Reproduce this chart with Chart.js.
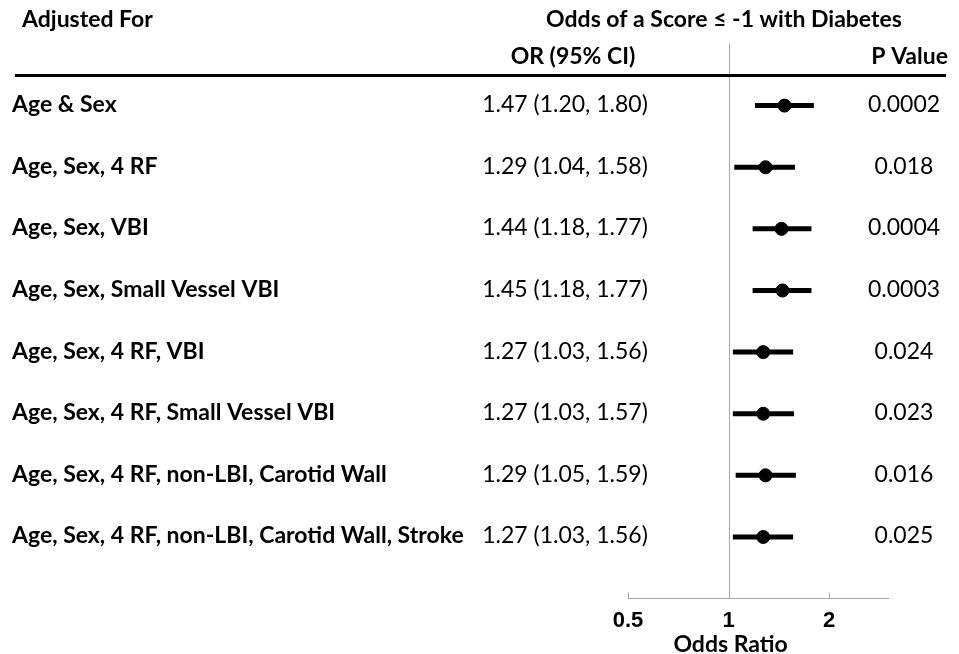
<!DOCTYPE html>
<html>
<head>
<meta charset="utf-8">
<script src="https://cdn.jsdelivr.net/npm/chart.js@4.4.0/dist/chart.umd.min.js"></script>
<style>
  html, body { margin: 0; padding: 0; background: #fff; }
  #wrap { width: 959px; height: 654px; position: relative; }
</style>
</head>
<body>
<div id="wrap"><canvas id="forest"></canvas></div>
<script>
// Dados do gráfico
const adjustedFor = [
    'Age & Sex',
    'Age, Sex, 4 RF',
    'Age, Sex, VBI',
    'Age, Sex, Small Vessel VBI',
    'Age, Sex, 4 RF, VBI',
    'Age, Sex, 4 RF, Small Vessel VBI',
    'Age, Sex, 4 RF, non-LBI, Carotid Wall',
    'Age, Sex, 4 RF, non-LBI, Carotid Wall, Stroke'
];
const oddsRatio = [1.47, 1.29, 1.44, 1.45, 1.27, 1.27, 1.29, 1.27];
const ciLower = [1.20, 1.04, 1.18, 1.18, 1.03, 1.03, 1.05, 1.03];
const ciUpper = [1.80, 1.58, 1.77, 1.77, 1.56, 1.57, 1.59, 1.56];
const pValues = ['0.0002', '0.018', '0.0004', '0.0003', '0.024', '0.023', '0.016', '0.025'];
const xTicks = [0.5, 1, 2];

const FONT = 'Lato, "Open Sans", sans-serif';
const SIZE = 23;

const fmt = v => v.toFixed(2);

// Linhas do IC e coluna de textos
const forestPlugin = {
    id: 'forestPlugin',
    beforeDatasetsDraw(chart) {
        const { ctx, scales: { x, y }, chartArea } = chart;
        ctx.save();
        // linha de referência em OR = 1
        ctx.strokeStyle = '#a6a6a6';
        ctx.lineWidth = 1;
        const x1 = Math.round(x.getPixelForValue(1)) + 0.5;
        ctx.beginPath();
        ctx.moveTo(x1, chartArea.top);
        ctx.lineTo(x1, chartArea.bottom);
        ctx.stroke();
        // marcas dos ticks (para cima)
        xTicks.forEach(t => {
            const px = Math.round(x.getPixelForValue(t)) + 0.5;
            ctx.beginPath();
            ctx.moveTo(px, chartArea.bottom);
            ctx.lineTo(px, chartArea.bottom - 6);
            ctx.stroke();
        });
        // intervalos de confiança
        ctx.strokeStyle = '#000';
        ctx.lineWidth = 5;
        ctx.lineCap = 'butt';
        oddsRatio.forEach((_, i) => {
            const py = y.getPixelForValue(i + 1);
            ctx.beginPath();
            ctx.moveTo(x.getPixelForValue(ciLower[i]), py);
            ctx.lineTo(x.getPixelForValue(ciUpper[i]), py);
            ctx.stroke();
        });
        ctx.restore();
    },
    afterDraw(chart) {
        const { ctx, scales: { x, y }, chartArea } = chart;
        ctx.save();
        ctx.fillStyle = '#000';
        ctx.textBaseline = 'middle';

        // cabeçalho
        ctx.font = `bold ${SIZE}px ${FONT}`;
        ctx.textAlign = 'left';
        ctx.fillText('Adjusted For', 22, 20);
        ctx.textAlign = 'center';
        ctx.fillText('Odds of a Score \u2264 -1 with Diabetes', 724, 20);
        ctx.fillText('OR (95% CI)', 573, 57);
        ctx.textAlign = 'right';
        ctx.fillText('P Value', 948, 57);

        // linha do cabeçalho
        ctx.fillRect(15, 74, 931, 3);

        adjustedFor.forEach((label, i) => {
            const py = y.getPixelForValue(i + 1) - 1;
            ctx.font = `bold ${SIZE}px ${FONT}`;
            ctx.textAlign = 'left';
            ctx.fillText(label, 12, py);
            ctx.font = `${SIZE}px ${FONT}`;
            ctx.textAlign = 'center';
            ctx.fillText(`${fmt(oddsRatio[i])} (${fmt(ciLower[i])}, ${fmt(ciUpper[i])})`, 565, py);
            ctx.fillText(pValues[i], 904, py);
        });

        // título do eixo x
        ctx.font = `bold ${SIZE}px ${FONT}`;
        ctx.textAlign = 'center';
        ctx.fillText('Odds Ratio', x.getPixelForValue(1) + 2, chartArea.bottom + 46);
        ctx.restore();
    }
};

const chart = new Chart(document.getElementById('forest'), {
    type: 'scatter',
    data: {
        datasets: [{
            data: oddsRatio.map((v, i) => ({ x: v, y: i + 1 })),
            backgroundColor: '#000',
            borderColor: '#000',
            pointRadius: 6.5,
            pointHoverRadius: 6.5
        }]
    },
    options: {
        responsive: true,
        maintainAspectRatio: false,
        animation: false,
        layout: {
            padding: { left: 628, right: 71, top: 44, bottom: 11 }
        },
        plugins: {
            legend: { display: false },
            tooltip: { enabled: false }
        },
        scales: {
            x: {
                type: 'logarithmic',
                min: 0.5,
                max: 3,
                afterBuildTicks: (scale) => {
                    scale.ticks = xTicks.map(v => ({ value: v }));
                },
                grid: { display: false, drawTicks: false },
                border: { display: true, color: '#a6a6a6', width: 1 },
                ticks: {
                    padding: 9,
                    color: '#000',
                    maxRotation: 0,
                    autoSkip: false,
                    font: { family: 'Arial, "Liberation Sans", sans-serif', size: 22, weight: 'bold' },
                    callback: (v) => String(v)
                },
                title: { display: false }
            },
            y: {
                display: false,
                reverse: true,
                min: 0,
                max: 9
            }
        }
    },
    plugins: [forestPlugin]
});
</script>
</body>
</html>
